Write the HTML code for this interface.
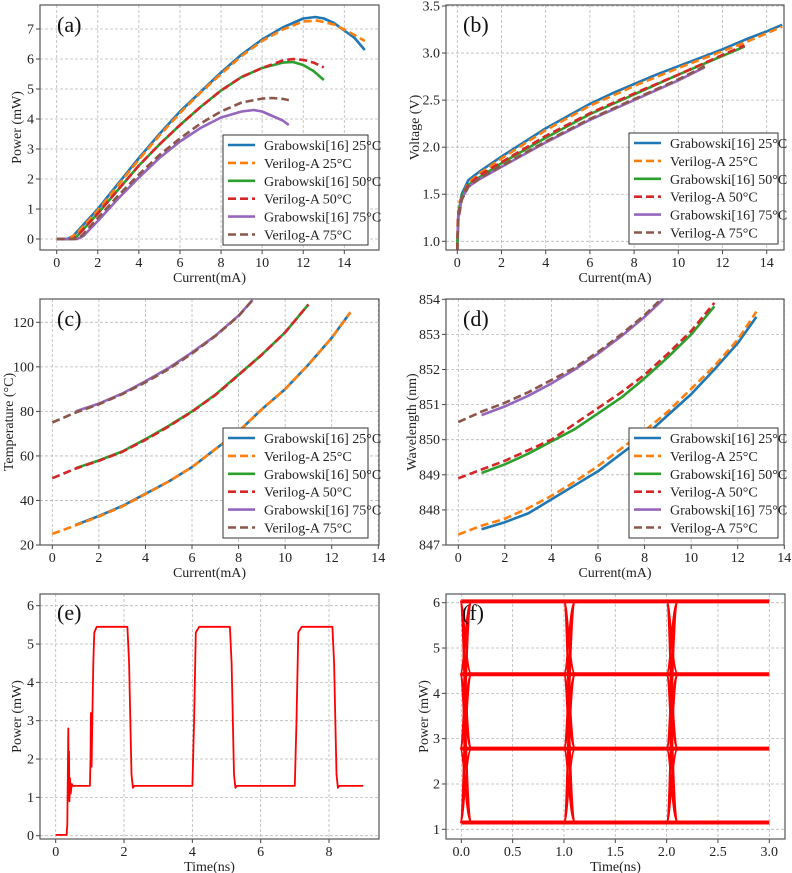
<!DOCTYPE html>
<html><head><meta charset="utf-8"><style>
body{margin:0;background:#fff}
svg{display:block}
svg text{font-family:"Liberation Serif","DejaVu Serif",serif}
</style></head><body>
<svg id="s" width="792" height="873" viewBox="0 0 792 873" font-family="Liberation Serif, serif"></svg>
<script>
// ---- data ----
const aG25=[[0,0],[0.5,0],[0.8,0.1],[1,0.25],[2,1.0],[3,1.85],[4,2.7],[5,3.5],[6,4.25],[7,4.9],[8,5.55],[9,6.15],[10,6.65],[11,7.05],[12,7.35],[12.6,7.4],[13,7.35],[13.5,7.2],[14,6.95],[14.5,6.7],[15,6.3]];
const aV25=[[0,0],[0.6,0],[1,0.2],[2,0.95],[3,1.8],[4,2.65],[5,3.45],[6,4.2],[7,4.88],[8,5.5],[9,6.1],[10,6.6],[11,6.98],[12,7.25],[12.7,7.28],[13.5,7.15],[14,6.98],[14.5,6.8],[15,6.6]];
const aG50=[[0,0],[0.8,0],[1,0.1],[2,0.85],[3,1.65],[4,2.45],[5,3.15],[6,3.8],[7,4.4],[8,4.95],[9,5.4],[10,5.7],[11,5.88],[11.5,5.9],[12,5.8],[12.5,5.6],[13,5.3]];
const aV50=[[0,0],[0.8,0],[1,0.1],[2,0.85],[3,1.65],[4,2.45],[5,3.15],[6,3.8],[7,4.4],[8,4.95],[9,5.4],[10,5.7],[11,5.95],[11.5,6.0],[12,5.97],[12.5,5.88],[13,5.72]];
const aG75=[[0,0],[1,0],[1.3,0.1],[2,0.6],[3,1.35],[4,2.05],[5,2.7],[6,3.25],[7,3.7],[8,4.05],[9,4.25],[9.6,4.3],[10,4.25],[10.5,4.1],[11,3.95],[11.3,3.8]];
const aV75=[[0,0],[0.9,0],[1.2,0.1],[2,0.7],[3,1.45],[4,2.15],[5,2.8],[6,3.35],[7,3.85],[8,4.25],[9,4.55],[10,4.68],[10.5,4.7],[11,4.67],[11.3,4.63]];
const bG25=[[0.01,1.0],[0.05,1.3],[0.2,1.5],[0.5,1.65],[1,1.74],[2,1.9],[3,2.05],[4,2.2],[5,2.33],[6,2.46],[7,2.57],[8,2.67],[9,2.77],[10,2.86],[11,2.95],[12,3.04],[13,3.14],[14,3.23],[14.7,3.3]];
const bV25=[[0,0.9],[0.02,1.2],[0.1,1.42],[0.5,1.62],[1,1.72],[2,1.88],[4,2.18],[6,2.44],[8,2.65],[10,2.84],[12,3.02],[13,3.11],[14.7,3.28]];
const bG50=[[0,0.95],[0.05,1.3],[0.2,1.48],[0.5,1.6],[1,1.68],[2,1.83],[4,2.1],[6,2.35],[8,2.56],[10,2.77],[11,2.87],[12,2.97],[13,3.07]];
const bV50=[[0,0.9],[0.03,1.25],[0.2,1.46],[0.5,1.6],[1,1.7],[2,1.84],[4,2.12],[6,2.36],[8,2.57],[10,2.77],[12,2.98],[13,3.08]];
const bG75=[[0.01,1.05],[0.05,1.25],[0.2,1.45],[0.5,1.58],[1,1.66],[2,1.79],[4,2.05],[6,2.29],[8,2.5],[10,2.71],[11.2,2.85]];
const bV75=[[0,0.9],[0.04,1.22],[0.2,1.44],[0.5,1.58],[1,1.67],[2,1.8],[4,2.06],[6,2.3],[8,2.51],[10,2.72],[11.2,2.86]];
const cG25=[[1,29],[2,33],[3,37.5],[4,43],[5,48.5],[6,55],[7,63],[8,71],[9,81],[10,90],[11,101],[12,113],[12.8,124.5]];
const cV25=[[0,25],[1,28.8],[2,32.8],[3,37.3],[4,42.8],[5,48.5],[6,55],[7,63],[8,71],[9,81],[10,90],[11,101],[12,113],[12.8,124.5]];
const cG50=[[1,54.5],[2,58],[3,62],[4,67.5],[5,73.5],[6,80],[7,87.5],[8,96.5],[9,105.5],[10,115.5],[11,128]];
const cV50=[[0,50],[1,54.3],[2,57.8],[3,61.8],[4,67.2],[5,73.2],[6,79.8],[7,87.3],[8,96.3],[9,105.5],[10,115.5],[11,128]];
const cG75=[[1,80],[2,83.5],[3,88],[4,93.5],[5,99.5],[6,106.5],[7,114],[8,123],[8.6,130]];
const cV75=[[0,75],[1,79.5],[2,83.2],[3,87.7],[4,93],[5,99],[6,106],[7,113.8],[8,122.8],[8.6,130]];
const dG25=[[1,847.45],[2,847.65],[3,847.9],[4,848.3],[5,848.7],[6,849.1],[7,849.6],[8,850.1],[9,850.7],[10,851.3],[11,852.0],[12,852.75],[12.8,853.5]];
const dV25=[[0,847.3],[1,847.55],[2,847.75],[3,848.05],[4,848.4],[5,848.8],[6,849.25],[7,849.75],[8,850.25],[9,850.8],[10,851.45],[11,852.1],[12,852.85],[12.8,853.65]];
const dG50=[[1,849.05],[2,849.3],[3,849.6],[4,849.95],[5,850.3],[6,850.75],[7,851.2],[8,851.75],[9,852.35],[10,853.0],[11,853.8]];
const dV50=[[0,848.9],[1,849.15],[2,849.4],[3,849.7],[4,850.0],[5,850.45],[6,850.9],[7,851.35],[8,851.85],[9,852.45],[10,853.1],[11,853.9]];
const dG75=[[1,850.7],[2,850.95],[3,851.25],[4,851.6],[5,852.0],[6,852.45],[7,852.95],[8,853.5],[8.8,854.0]];
const dV75=[[0,850.5],[1,850.8],[2,851.05],[3,851.35],[4,851.7],[5,852.05],[6,852.5],[7,853.0],[8,853.55],[8.7,854]];
const eSig=[[0,0.02],[0.32,0.02],[0.34,0.3],[0.37,2.8],[0.38,1.0],[0.39,2.2],[0.4,0.9],[0.42,1.5],[0.44,1.1],[0.47,1.35],[0.5,1.3],[1.0,1.3],[1.02,2.0],[1.03,3.2],[1.05,1.8],[1.07,3.0],[1.1,4.5],[1.13,5.3],[1.2,5.45],[2.1,5.45],[2.15,4.5],[2.22,1.6],[2.26,1.25],[2.3,1.3],[4.0,1.3],[4.05,3],[4.1,5.3],[4.2,5.45],[5.1,5.45],[5.15,4.5],[5.22,1.6],[5.26,1.25],[5.3,1.3],[7.0,1.3],[7.05,3],[7.1,5.3],[7.2,5.45],[8.1,5.45],[8.15,4.5],[8.22,1.6],[8.26,1.25],[8.3,1.3],[9.0,1.3]];
const fLevels=[1.15,2.78,4.42,6.03];
const fCross=[0.03,1.04,2.04];
const fEnd=3.0;
const legendLabels=["Grabowski[16] 25°C","Verilog-A 25°C","Grabowski[16] 50°C","Verilog-A 50°C","Grabowski[16] 75°C","Verilog-A 75°C"];
const colors=["#1f77b4","#ff7f0e","#2ca02c","#d62728","#9467bd","#8c564b"];

// ---- drawing ----
const S=document.getElementById('s'),NS='http://www.w3.org/2000/svg';
function mk(t,a,p){const e=document.createElementNS(NS,t);for(const k in a)e.setAttribute(k,a[k]);if(t==='text')e.setAttribute('font-family','Liberation Serif, serif');(p||S).appendChild(e);return e;}
let cid=0;
function panel(c){
  const g=mk('g',{});
  
  
  const X=v=>c.xp[0]+(v-c.xv[0])*(c.xp[1]-c.xp[0])/(c.xv[1]-c.xv[0]);
  const Y=v=>c.yp[0]+(v-c.yv[0])*(c.yp[1]-c.yp[0])/(c.yv[1]-c.yv[0]);
  const [L,T,R,B]=c.box;
  c.xt.forEach(v=>{const x=X(v);if(x<L-1||x>R+1)return;
    const l=mk('line',{x1:x,x2:x,y1:T,y2:B,stroke:'#b8b8b8','stroke-dasharray':'3,2','stroke-width':0.8},g);
    
    mk('line',{x1:x,x2:x,y1:B,y2:B+4,stroke:'#444'},g);
    const t=mk('text',{x:x,y:B+17,'text-anchor':'middle','font-size':14,fill:'#222'},g);
    t.textContent=c.xf?c.xf(v):v;});
  c.yt.forEach(v=>{const y=Y(v);if(y<T-1||y>B+1)return;
    const l=mk('line',{x1:L,x2:R,y1:y,y2:y,stroke:'#b8b8b8','stroke-dasharray':'3,2','stroke-width':0.8},g);
    
    mk('line',{x1:L-4,x2:L,y1:y,y2:y,stroke:'#444'},g);
    const t=mk('text',{x:L-6,y:y+4.5,'text-anchor':'end','font-size':14,fill:'#222'},g);
    t.textContent=c.yf?c.yf(v):v;});
  const id='cp'+(cid++);
  const cp=mk('clipPath',{id:id},g);mk('rect',{x:L,y:T,width:R-L,height:B-T},cp);
  const pg=mk('g',{'clip-path':'url(#'+id+')'},g);
  c.series.forEach((s,i)=>{
    const d=s.pts.map((p,j)=>(j?'L':'M')+X(p[0]).toFixed(1)+','+Y(p[1]).toFixed(1)).join('');
    const a={d:d,fill:'none',stroke:s.col,'stroke-width':s.w||2.6,'stroke-linejoin':'round'};
    if(s.dash)a['stroke-dasharray']='8,4';
    const p=mk('path',a,pg);});
  if(c.extra)c.extra(pg,X,Y);
  const f=mk('rect',{x:L,y:T,width:R-L,height:B-T,fill:'none',stroke:'#555','stroke-width':1.2},g);
  
  const pl=mk('text',{x:c.lab[0],y:c.lab[1],'font-size':22,fill:'#111'},g);
  pl.textContent='('+c.id+')';
  const xt=mk('text',{x:(L+R)/2,y:B+32,'text-anchor':'middle','font-size':14,fill:'#222'},g);
  xt.textContent=c.xl;
  const yt=mk('text',{x:0,y:0,'text-anchor':'middle','font-size':14,fill:'#222',transform:'translate('+c.ylx+','+(T+B)/2+') rotate(-90)'},g);
  yt.textContent=c.yl;
  if(c.leg){const [lx,ly,lw,lh]=c.leg;
    const lg=mk('g',{},g);
    mk('rect',{x:lx,y:ly,width:lw,height:lh,fill:'#fff',stroke:'#333','stroke-width':1},lg);
    legendLabels.forEach((t,i)=>{const yy=ly+10+i*17.9;
      const e=mk('g',{},lg);
      const a={x1:lx+5,x2:lx+32,y1:yy,y2:yy,stroke:colors[i],'stroke-width':2.6};if(i%2)a['stroke-dasharray']='8,4';
      mk('line',a,e);
      const tx=mk('text',{x:lx+41,y:yy+5,'font-size':14,fill:'#222'},e);tx.textContent=t;});
  }
}
const names=['grabowski-25c','verilog-a-25c','grabowski-50c','verilog-a-50c','grabowski-75c','verilog-a-75c'];
function ser(arrs){return arrs.map((p,i)=>({pts:p,col:colors[i],dash:i%2==1,name:names[i]}));}
const ev=(a,b,s)=>{const r=[];for(let v=a;v<=b+1e-9;v+=s)r.push(+v.toFixed(2));return r;};
panel({id:'a',box:[40,5,379,250],xv:[0,14],xp:[56.7,344.3],yv:[0,7],yp:[239,29],xt:ev(0,14,2),yt:ev(0,7,1),
  series:ser([aG25,aV25,aG50,aV50,aG75,aV75]),lab:[57,32],xl:'Current(mA)',yl:'Power (mW)',ylx:21,leg:[223,135,145,110]});
panel({id:'b',box:[446,5,784,250],xv:[0,14],xp:[457.3,766.7],yv:[1,3.5],yp:[241.3,6],xt:ev(0,14,2),yt:ev(1,3.5,0.5),yf:v=>v.toFixed(1),
  series:ser([bG25,bV25,bG50,bV50,bG75,bV75]),lab:[463,32],xl:'Current(mA)',yl:'Voltage (V)',ylx:419,leg:[629,133,149,111]});
panel({id:'c',box:[40,299,379,545],xv:[0,14],xp:[52.3,378.3],yv:[20,120],yp:[545,322.3],xt:ev(0,14,2),yt:ev(20,120,20),
  series:ser([cG25,cV25,cG50,cV50,cG75,cV75]),lab:[57,326],xl:'Current(mA)',yl:'Temperature (°C)',ylx:13,leg:[223,428,145,110]});
panel({id:'d',box:[446,299,784,545],xv:[0,14],xp:[458.3,784.3],yv:[847,854],yp:[545,299.3],xt:ev(0,14,2),yt:ev(847,854,1),
  series:ser([dG25,dV25,dG50,dV50,dG75,dV75]),lab:[463,326],xl:'Current(mA)',yl:'Wavelength (nm)',ylx:416,leg:[629,428,149,110]});
panel({id:'e',box:[40,594,379,839],xv:[0,8],xp:[55.7,329],yv:[0,6],yp:[835.7,605.7],xt:ev(0,8,2),yt:ev(0,6,1),
  series:[{pts:eSig,col:'#ff0000',w:1.8,name:'power-trace'}],lab:[57,620],xl:'Time(ns)',yl:'Power (mW)',ylx:21});
panel({id:'f',box:[446,594,785,839],xv:[0,3],xp:[461.3,769.3],yv:[1,6],yp:[829.3,602.7],xt:ev(0,3,0.5),yt:ev(1,6,1),xf:v=>v.toFixed(1),
  series:[],lab:[462,620],xl:'Time(ns)',yl:'Power (mW)',ylx:428,
  extra:(pg,X,Y)=>{
    fLevels.forEach(l=>{const p=mk('line',{x1:X(0),x2:X(fEnd),y1:Y(l),y2:Y(l),stroke:'#ff0000','stroke-width':4},pg);
      });
    fCross.forEach(t=>{fLevels.forEach(a=>{fLevels.forEach(b=>{if(a===b)return;
      const d='M'+X(t-0.04)+','+Y(a)+' C'+X(t)+','+Y(a)+' '+X(t+0.01)+','+Y(b)+' '+X(t+0.07)+','+Y(b);
      const p=mk('path',{d:d,fill:'none',stroke:'#ff0000','stroke-width':1.8},pg);
      });});});
  }});
</script>
</body></html>
